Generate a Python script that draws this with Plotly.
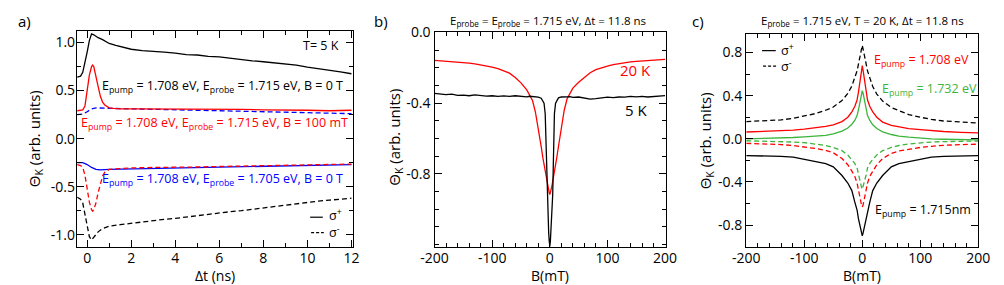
import plotly.graph_objects as go

W, H = 1004, 285

# ---------------- Panel a data (time traces) ----------------
t_black_p = [-0.45, -0.3, -0.2, -0.1, 0.0, 0.1, 0.2, 0.3, 0.5, 0.7, 1.0, 1.3, 1.6, 2.0, 2.5, 3.0, 3.5, 4.0, 4.5,
             5.0, 5.5, 6.0, 6.5, 7.0, 7.5, 8.0, 8.5, 9.0, 9.5, 10.0, 10.5, 11.0, 11.5, 12.0]
v_black_p = [0.64, 0.65, 0.69, 0.78, 0.90, 1.02, 1.09, 1.08, 1.05, 1.03, 0.99, 0.97, 0.95, 0.93, 0.915, 0.91,
             0.90, 0.89, 0.875, 0.87, 0.855, 0.85, 0.835, 0.825, 0.81, 0.80, 0.79, 0.775, 0.765, 0.745, 0.73,
             0.71, 0.695, 0.675]

t_red_p = [-0.45, -0.2, -0.1, 0.0, 0.1, 0.2, 0.25, 0.3, 0.4, 0.5, 0.6, 0.7, 0.8, 0.9, 1.0, 1.2, 1.5, 2, 3, 4,
           5, 6, 7, 8, 9, 10, 11, 12]
v_red_p = [0.29, 0.30, 0.34, 0.48, 0.66, 0.75, 0.765, 0.75, 0.66, 0.54, 0.44, 0.38, 0.35, 0.33, 0.32, 0.315,
           0.31, 0.31, 0.31, 0.305, 0.305, 0.31, 0.305, 0.30, 0.30, 0.295, 0.29, 0.295]

t_blue = [-0.45, -0.2, 0.0, 0.2, 0.4, 0.6, 1, 2, 3, 4, 5, 6, 7, 8, 9, 10, 11, 12]
v_blue_m = [0.25, 0.255, 0.28, 0.31, 0.32, 0.32, 0.315, 0.31, 0.305, 0.30, 0.295, 0.29, 0.285, 0.28, 0.275,
            0.27, 0.265, 0.26]
v_blue_p = [-0.25, -0.25, -0.27, -0.30, -0.32, -0.325, -0.32, -0.315, -0.31, -0.305, -0.30, -0.295, -0.29,
            -0.285, -0.28, -0.28, -0.275, -0.27]

t_red_m = [-0.45, -0.3, -0.2, -0.1, 0.0, 0.1, 0.2, 0.25, 0.3, 0.4, 0.5, 0.6, 0.7, 0.8, 0.9, 1.0, 1.2, 1.5, 2,
           3, 4, 5, 6, 7, 8, 9, 10, 11, 12]
v_red_m = [-0.27, -0.28, -0.30, -0.38, -0.52, -0.66, -0.74, -0.755, -0.74, -0.67, -0.56, -0.46, -0.39, -0.35,
           -0.33, -0.32, -0.315, -0.31, -0.305, -0.30, -0.30, -0.295, -0.29, -0.285, -0.28, -0.28, -0.275,
           -0.27, -0.265]

t_black_m = [-0.45, -0.3, -0.2, -0.1, 0.0, 0.1, 0.2, 0.3, 0.5, 0.7, 1.0, 1.5, 2.0, 2.5, 3.0, 3.5, 4.0, 4.5,
             5.0, 5.5, 6.0, 6.5, 7.0, 7.5, 8.0, 8.5, 9.0, 9.5, 10.0, 10.5, 11.0, 11.5, 12.0]
v_black_m = [-0.61, -0.63, -0.67, -0.78, -0.92, -1.02, -1.055, -1.03, -0.97, -0.935, -0.91, -0.895, -0.88,
             -0.865, -0.85, -0.84, -0.83, -0.815, -0.80, -0.785, -0.77, -0.76, -0.75, -0.735, -0.72, -0.71,
             -0.695, -0.68, -0.665, -0.65, -0.64, -0.63, -0.62]

# ---------------- Panel b data (field scans) ----------------
B_b = [-200, -190, -180, -170, -160, -150, -140, -130, -120, -110, -100, -90, -80, -70, -60, -50, -40, -35,
       -30, -25, -20, -15, -12, -10, -8, -7, -6, -5, -4, -3, -2, -1, 0, 1, 2, 3, 4, 5, 6, 7, 8, 10, 12, 15,
       20, 25, 30, 35, 40, 50, 60, 70, 80, 90, 100, 110, 120, 130, 140, 150, 160, 170, 180, 190, 200]
v_5K = [-0.345, -0.350, -0.352, -0.349, -0.356, -0.355, -0.358, -0.353, -0.357, -0.360, -0.358, -0.362,
        -0.359, -0.361, -0.358, -0.362, -0.364, -0.361, -0.362, -0.365, -0.366, -0.372, -0.385, -0.40, -0.46,
        -0.58, -0.76, -0.92, -1.00, -1.07, -1.13, -1.18, -1.21, -1.18, -1.13, -1.07, -1.00, -0.92, -0.76,
        -0.58, -0.46, -0.40, -0.385, -0.37, -0.365, -0.366, -0.364, -0.363, -0.367, -0.365, -0.372, -0.377,
        -0.374, -0.368, -0.366, -0.369, -0.365, -0.366, -0.362, -0.364, -0.362, -0.365, -0.362, -0.360,
        -0.357]
v_20K = [-0.158, -0.160, -0.162, -0.165, -0.167, -0.170, -0.174, -0.178, -0.183, -0.189, -0.196, -0.204,
         -0.215, -0.23, -0.255, -0.285, -0.325, -0.352, -0.385, -0.45, -0.54, -0.645, -0.71, -0.75, -0.785,
         -0.805, -0.825, -0.845, -0.862, -0.878, -0.893, -0.907, -0.917, -0.907, -0.893, -0.878, -0.862,
         -0.845, -0.825, -0.805, -0.785, -0.75, -0.71, -0.645, -0.535, -0.44, -0.375, -0.342, -0.315,
         -0.282, -0.253, -0.228, -0.21, -0.198, -0.19, -0.182, -0.176, -0.171, -0.166, -0.163, -0.160,
         -0.157, -0.155, -0.153, -0.152]

# ---------------- Panel c data ----------------
B_c = [-200, -170, -140, -119, -100, -80, -63, -50, -35, -25, -18, -13, -9, -6.7, -3.4, -1.5, 0, 1.5, 3.4,
       6.7, 9, 13, 18, 25, 35, 50, 63, 80, 100, 119, 140, 170, 200]
c_black_m = [0.16, 0.165, 0.175, 0.19, 0.21, 0.235, 0.265, 0.295, 0.355, 0.42, 0.49, 0.57, 0.63, 0.69, 0.77,
             0.83, 0.867, 0.83, 0.77, 0.69, 0.63, 0.565, 0.485, 0.415, 0.35, 0.29, 0.26, 0.225, 0.20, 0.18,
             0.165, 0.155, 0.147]
c_black_p = [-0.155, -0.158, -0.163, -0.17, -0.19, -0.21, -0.23, -0.26, -0.34, -0.41, -0.48, -0.585, -0.66,
             -0.74, -0.82, -0.87, -0.90, -0.87, -0.82, -0.74, -0.66, -0.585, -0.48, -0.41, -0.34, -0.26,
             -0.23, -0.21, -0.19, -0.17, -0.163, -0.158, -0.155]
c_red_p = [0.063, 0.068, 0.074, 0.08, 0.09, 0.10, 0.115, 0.13, 0.16, 0.20, 0.25, 0.30, 0.36, 0.43, 0.55, 0.63,
           0.678, 0.63, 0.55, 0.43, 0.36, 0.30, 0.25, 0.20, 0.155, 0.125, 0.11, 0.095, 0.085, 0.075, 0.068,
           0.06, 0.055]
c_green_p = [0.0, 0.003, 0.007, 0.012, 0.018, 0.024, 0.032, 0.045, 0.072, 0.10, 0.135, 0.17, 0.215, 0.267,
             0.357, 0.42, 0.447, 0.42, 0.357, 0.267, 0.215, 0.17, 0.13, 0.095, 0.065, 0.04, 0.025, 0.015,
             0.005, 0.0, -0.004, -0.007, -0.01]
c_green_m = [-0.018, -0.02, -0.025, -0.03, -0.035, -0.048, -0.062, -0.08, -0.11, -0.15, -0.19, -0.228, -0.27,
             -0.333, -0.40, -0.445, -0.467, -0.445, -0.40, -0.333, -0.27, -0.228, -0.19, -0.15, -0.11, -0.08,
             -0.062, -0.048, -0.037, -0.03, -0.026, -0.022, -0.02]
c_red_m = [-0.042, -0.047, -0.053, -0.063, -0.075, -0.09, -0.108, -0.13, -0.183, -0.24, -0.30, -0.347, -0.41,
           -0.48, -0.56, -0.61, -0.632, -0.61, -0.56, -0.48, -0.41, -0.347, -0.30, -0.24, -0.183, -0.135,
           -0.113, -0.095, -0.08, -0.07, -0.06, -0.054, -0.05]

# tick labels
a_xticks = [0, 2, 4, 6, 8, 10, 12]
a_yticks = [-1.0, -0.5, 0.0, 0.5, 1.0]
a_ylabels = ["-1.0", "-0.5", "0.0", "0.5", "1.0"]
b_xticks = [-200, -100, 0, 100, 200]
b_xlabels = ["-200", "-100", "0", "100", "200"]
b_yticks = [-0.8, -0.4, 0.0]
b_ylabels = ["-0.8", "-0.4", "0.0"]
c_yticks = [-0.8, -0.4, 0.0, 0.4, 0.8]
c_ylabels = ["-0.8", "-0.4", "0.0", "0.4", "0.8"]

RED = "#ff0000"
BLUE = "#0000ff"
GREEN = "#3cb43c"
BLACK = "#000000"
DASH = "5px,3px"
LW = 1.3
FONT = "Open Sans"

fig = go.Figure()


def add(x, y, color, dash, ax):
    fig.add_trace(go.Scatter(x=x, y=y, mode="lines", line=dict(color=color, width=LW, dash=dash),
                             xaxis="x" + ax, yaxis="y" + ax, showlegend=False, hoverinfo="skip"))


# panel a
add(t_black_p, v_black_p, BLACK, "solid", "")
add(t_blue, v_blue_m, BLUE, DASH, "")
add(t_red_p, v_red_p, RED, "solid", "")
add(t_blue, v_blue_p, BLUE, "solid", "")
add(t_red_m, v_red_m, RED, DASH, "")
add(t_black_m, v_black_m, BLACK, DASH, "")
# panel b
add(B_b, v_20K, RED, "solid", "2")
add(B_b, v_5K, BLACK, "solid", "2")
# panel c
add(B_c, c_black_m, BLACK, DASH, "3")
add(B_c, c_red_p, RED, "solid", "3")
add(B_c, c_green_p, GREEN, "solid", "3")
add(B_c, c_green_m, GREEN, DASH, "3")
add(B_c, c_red_m, RED, DASH, "3")
add(B_c, c_black_p, BLACK, "solid", "3")


def px(x):
    return x / W


def py(y):
    return 1 - y / H


def axis(domain, rng, tickvals, ticktext, minor_dtick, minor_tick0, anchor, standoff):
    d = dict(domain=domain, range=rng, showline=True, linecolor="black", linewidth=1.3, mirror="ticks",
             ticks="inside", ticklen=7, tickwidth=1.1, tickcolor="black", showgrid=False, zeroline=False,
             tickmode="array", tickvals=tickvals, ticktext=ticktext, anchor=anchor,
             tickfont=dict(family=FONT, size=14, color="black"), ticklabelstandoff=standoff,
             minor=dict(ticks="inside", ticklen=4, tickwidth=1.0, tickcolor="black",
                        dtick=minor_dtick, tick0=minor_tick0, showgrid=False))
    return d


ybot = py(246)
fig.update_layout(
    width=W, height=H, margin=dict(l=0, r=0, t=0, b=0), paper_bgcolor="white", plot_bgcolor="white",
    showlegend=False, font=dict(family=FONT, color="black"),
    xaxis=axis([px(64.7), px(348)], [-0.46, 12.07], a_xticks, [str(v) for v in a_xticks], 1, 0, "y", -2),
    yaxis=axis([ybot, py(22.7)], [-1.13, 1.12], a_yticks, a_ylabels, 0.25, 0, "x", -2),
    xaxis2=axis([px(431.7), px(669)], [-200, 201], b_xticks, b_xlabels, 20, 0, "y2", -2),
    yaxis2=axis([ybot, py(23.5)], [-1.215, 0.004], b_yticks, b_ylabels, 0.1, 0, "x2", 0),
    xaxis3=axis([px(751.7), px(990)], [-200, 200], b_xticks, b_xlabels, 20, 0, "y3", -2),
    yaxis3=axis([ybot, py(26)], [-1.005, 0.97], c_yticks, c_ylabels, 0.2, 0, "x3", 0),
)

ann = []


def text(x, y, s, color=BLACK, size=12, xanchor="center", angle=0):
    ann.append(dict(x=px(x), y=py(y), xref="paper", yref="paper", text=s, showarrow=False,
                    font=dict(family=FONT, size=size, color=color), xanchor=xanchor, yanchor="middle",
                    textangle=angle))


# panel labels and titles
text(11, 12, "a)", size=15)
text(377, 12, "b)", size=15)
text(702, 12, "c)", size=15)
text(548, 12, "E<sub>probe</sub> = E<sub>probe</sub> = 1.715 eV, Δt = 11.8 ns", size=11.5)
text(871, 12, "E<sub>probe</sub> = 1.715 eV, T = 20 K, Δt = 11.8 ns", size=11.5)

# axis titles
ytitle = "Θ<sub>K</sub> (arb. units)"
text(21, 134, ytitle, size=15, angle=-90)
text(391, 132, ytitle, size=15, angle=-90)
text(710, 136, ytitle, size=15, angle=-90)
text(206, 275, "Δt (ns)", size=14)
text(550, 275, "B(mT)", size=14)
text(871, 275, "B(mT)", size=14)

# panel a annotations
text(315, 38, "T= 5 K", size=12.5)
text(340, 80, "E<sub>pump</sub> = 1.708 eV, E<sub>probe</sub> = 1.715 eV, B = 0 T", size=12.5, xanchor="right")
text(345, 118, "E<sub>pump</sub> = 1.708 eV, E<sub>probe</sub> = 1.715 eV, B = 100 mT", RED, size=12.5,
     xanchor="right")
text(340, 176, "E<sub>pump</sub> = 1.708 eV, E<sub>probe</sub> = 1.705 eV, B = 0 T", BLUE, size=12.5,
     xanchor="right")
text(321, 213, "σ<sup>+</sup>", size=12.5, xanchor="left")
text(321, 230, "σ<sup>-</sup>", size=12.5, xanchor="left")

# panel b annotations
text(638, 63, "20 K", RED, size=15)
text(639, 104, "5 K", size=15)

# panel c annotations
text(881, 53, "E<sub>pump</sub> = 1.708 eV", RED, size=12.5, xanchor="left")
text(889, 83, "E<sub>pump</sub> = 1.732 eV", GREEN, size=12.5, xanchor="left")
text(882, 208, "E<sub>pump</sub> = 1.715nm", BLACK, size=12.5, xanchor="left")
text(785, 42, "σ<sup>+</sup>", size=12.5, xanchor="left")
text(785, 59, "σ<sup>-</sup>", size=12.5, xanchor="left")

fig.update_layout(annotations=ann)

# legend key samples (paper coordinates)
shapes = []
for (x0, x1, y, dash) in [(304, 317, 215, "solid"), (305, 318, 231, "3px,2px"),
                          (768, 782, 43, "solid"), (769, 783, 59, "3px,2px")]:
    shapes.append(dict(type="line", xref="paper", yref="paper", x0=px(x0), x1=px(x1), y0=py(y), y1=py(y),
                       line=dict(color="black", width=1.2, dash=dash)))
fig.update_layout(shapes=shapes)

fig.write_html("out.html")
